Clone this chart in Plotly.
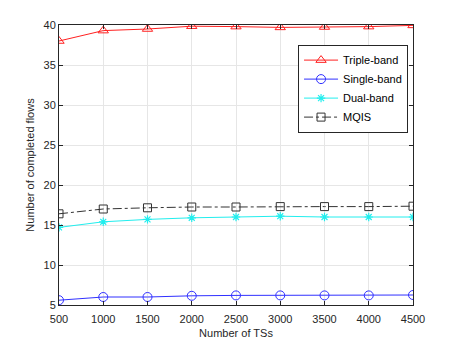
import plotly.graph_objects as go

ts = [500, 1000, 1500, 2000, 2500, 3000, 3500, 4000, 4500]
triple_band = [38.0, 39.3, 39.5, 39.85, 39.8, 39.7, 39.75, 39.8, 39.95]
single_band = [5.6, 6.0, 6.0, 6.15, 6.2, 6.2, 6.2, 6.2, 6.25]
dual_band = [14.7, 15.4, 15.7, 15.9, 16.0, 16.1, 16.0, 16.0, 16.0]
mqis = [16.4, 17.0, 17.15, 17.25, 17.25, 17.3, 17.3, 17.3, 17.35]

font = "Liberation Sans, Arial, sans-serif"
axis_col = "#262626"

fig = go.Figure()

fig.add_trace(go.Scatter(x=ts, y=triple_band, name="Triple-band", mode="lines+markers",
                         line=dict(color="#ff2020", width=1),
                         marker=dict(symbol="triangle-up-open", size=9, color="#ff2020",
                                     line=dict(width=1))))
fig.add_trace(go.Scatter(x=ts, y=single_band, name="Single-band", mode="lines+markers",
                         line=dict(color="#3030ff", width=1),
                         marker=dict(symbol="circle-open", size=9, color="#3030ff",
                                     line=dict(width=1))))
fig.add_trace(go.Scatter(x=ts, y=dual_band, name="Dual-band", mode="lines+markers",
                         line=dict(color="#22eeee", width=1),
                         marker=dict(symbol="asterisk-open", size=7, color="#22eeee",
                                     line=dict(width=1.2, color="#22eeee"))))
fig.add_trace(go.Scatter(x=ts, y=mqis, name="MQIS", mode="lines+markers",
                         line=dict(color="#333333", width=1, dash="dashdot"),
                         marker=dict(symbol="square-open", size=8, color="#333333",
                                     line=dict(width=1))))

# page body has an 8px margin, so the figure is a bit smaller than the window
fig.update_layout(
    width=449, height=335,
    margin=dict(l=51, r=44, t=17, b=38),
    paper_bgcolor="white", plot_bgcolor="white",
    font=dict(family=font, size=10, color=axis_col),
    showlegend=True,
    legend=dict(x=0.986, y=0.93, xanchor="right", yanchor="top",
                bgcolor="white", bordercolor=axis_col, borderwidth=1,
                font=dict(size=11, color="black"), tracegroupgap=0, itemwidth=34),
    xaxis=dict(range=[500, 4500], tickvals=ts, ticks="inside", ticklen=4,
               tickcolor=axis_col, showline=True, linecolor=axis_col, linewidth=1,
               mirror="allticks", showgrid=True, gridcolor="#e6e6e6", zeroline=False,
               tickfont=dict(size=11), ticklabelstandoff=4, automargin=False,
               title=dict(text="Number of TSs", font=dict(size=11), standoff=5)),
    yaxis=dict(range=[5, 40], tickvals=[5, 10, 15, 20, 25, 30, 35, 40], ticks="inside",
               ticklen=4, tickcolor=axis_col, showline=True, linecolor=axis_col,
               linewidth=1, mirror="allticks", showgrid=True, gridcolor="#e6e6e6",
               zeroline=False, tickfont=dict(size=11), automargin=False,
               title=dict(text="Number of completed flows", font=dict(size=11), standoff=6)),
)

fig.write_html("out.html")
